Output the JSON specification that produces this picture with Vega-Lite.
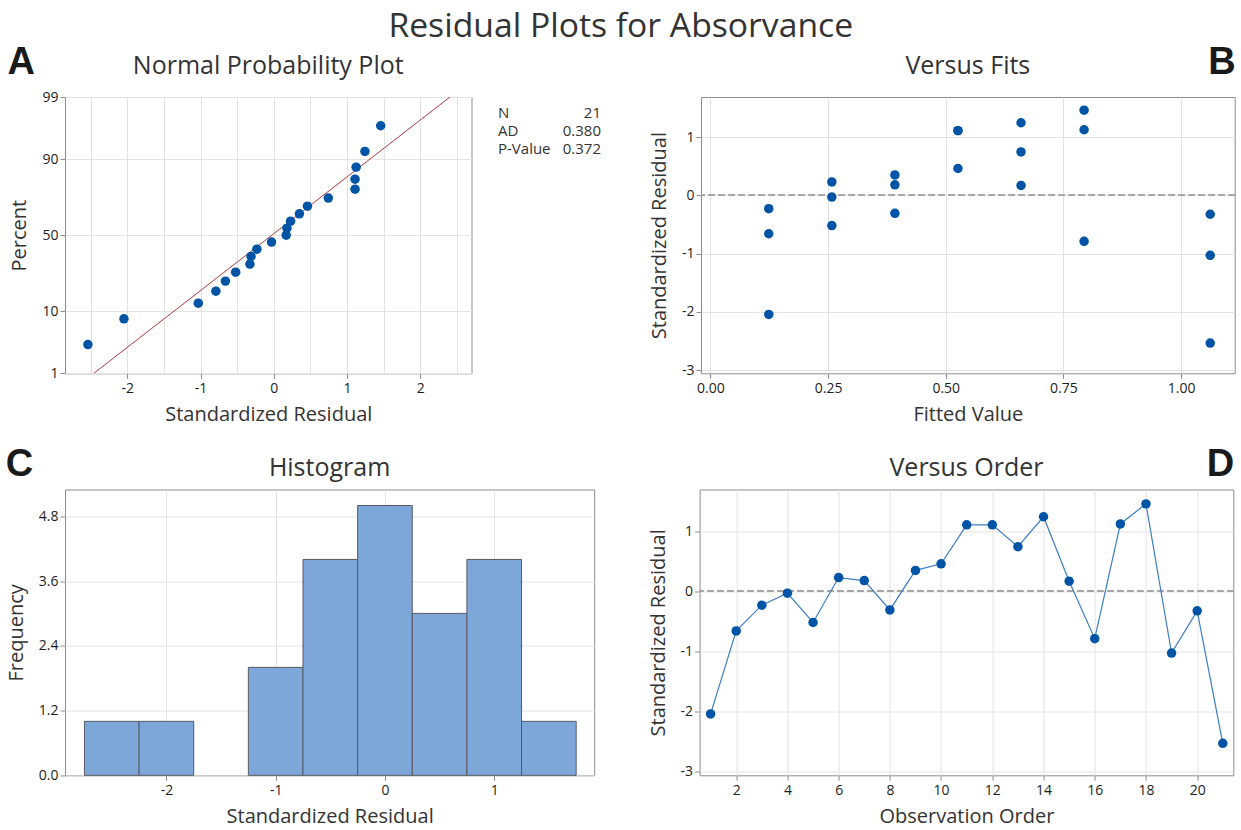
{
  "$schema": "https://vega.github.io/schema/vega-lite/v6.json",
  "background": "white",
  "padding": {"left": 5, "top": 9, "right": 8, "bottom": 4},
  "title": {"text": "Residual Plots for Absorvance", "fontSize": 33.7, "fontWeight": "normal", "font": "Open Sans", "color": "#333333", "anchor": "middle", "baseline": "alphabetic", "offset": 0, "dy": 27.1},
  "config": {
    "font": "Open Sans",
    "view": {"stroke": "#8c8c8c", "strokeWidth": 1},
    "axis": {"domain": false, "grid": true, "gridColor": "#e3e3e3", "gridWidth": 1, "ticks": true, "tickColor": "#8c8c8c", "tickSize": 5, "labelFont": "Open Sans", "labelFontSize": 14, "labelColor": "#1e1e1e", "labelPadding": 3, "titleFont": "Open Sans", "titleFontSize": 20, "titleFontWeight": "normal", "titleColor": "#333333", "titlePadding": 9.5},
    "axisY": {"labelPadding": 2, "titlePadding": 12},
    "title": {"font": "Open Sans", "fontSize": 25, "fontWeight": "normal", "color": "#333333"}
  },
  "datasets": {
    "obs": [
      {"order": 1, "fit": 0.124, "resid": -2.045},
      {"order": 2, "fit": 0.124, "resid": -0.66},
      {"order": 3, "fit": 0.124, "resid": -0.23},
      {"order": 4, "fit": 0.258, "resid": -0.03},
      {"order": 5, "fit": 0.258, "resid": -0.52},
      {"order": 6, "fit": 0.258, "resid": 0.23},
      {"order": 7, "fit": 0.392, "resid": 0.18},
      {"order": 8, "fit": 0.392, "resid": -0.31},
      {"order": 9, "fit": 0.392, "resid": 0.35},
      {"order": 10, "fit": 0.526, "resid": 0.46},
      {"order": 11, "fit": 0.526, "resid": 1.11},
      {"order": 12, "fit": 0.526, "resid": 1.11},
      {"order": 13, "fit": 0.66, "resid": 0.745},
      {"order": 14, "fit": 0.66, "resid": 1.245},
      {"order": 15, "fit": 0.66, "resid": 0.17},
      {"order": 16, "fit": 0.794, "resid": -0.79},
      {"order": 17, "fit": 0.794, "resid": 1.125},
      {"order": 18, "fit": 0.794, "resid": 1.46},
      {"order": 19, "fit": 1.062, "resid": -1.03},
      {"order": 20, "fit": 1.062, "resid": -0.325},
      {"order": 21, "fit": 1.062, "resid": -2.537}
    ],
    "npp": [
      {"resid": -2.537, "pct": 3.27, "z": -1.842},
      {"resid": -2.045, "pct": 7.94, "z": -1.409},
      {"resid": -1.03, "pct": 12.62, "z": -1.145},
      {"resid": -0.79, "pct": 17.29, "z": -0.943},
      {"resid": -0.66, "pct": 21.96, "z": -0.774},
      {"resid": -0.52, "pct": 26.64, "z": -0.624},
      {"resid": -0.325, "pct": 31.31, "z": -0.487},
      {"resid": -0.31, "pct": 35.98, "z": -0.359},
      {"resid": -0.23, "pct": 40.65, "z": -0.236},
      {"resid": -0.03, "pct": 45.33, "z": -0.117},
      {"resid": 0.17, "pct": 50.0, "z": 0.0},
      {"resid": 0.18, "pct": 54.67, "z": 0.117},
      {"resid": 0.23, "pct": 59.35, "z": 0.236},
      {"resid": 0.35, "pct": 64.02, "z": 0.359},
      {"resid": 0.46, "pct": 68.69, "z": 0.487},
      {"resid": 0.745, "pct": 73.36, "z": 0.624},
      {"resid": 1.11, "pct": 78.04, "z": 0.774},
      {"resid": 1.11, "pct": 82.71, "z": 0.943},
      {"resid": 1.125, "pct": 87.38, "z": 1.145},
      {"resid": 1.245, "pct": 92.06, "z": 1.409},
      {"resid": 1.46, "pct": 96.73, "z": 1.842}
    ],
    "nppline": [
      {"resid": -2.456, "pct": 1, "z": -2.326},
      {"resid": 2.406, "pct": 99, "z": 2.326}
    ],
    "stats": [
      {"stat": "N", "value": "21"},
      {"stat": "AD", "value": "0.380"},
      {"stat": "P-Value", "value": "0.372"}
    ],
    "hist": [
      {"bin_start": -2.75, "bin_end": -2.25, "count": 1},
      {"bin_start": -2.25, "bin_end": -1.75, "count": 1},
      {"bin_start": -1.25, "bin_end": -0.75, "count": 2},
      {"bin_start": -0.75, "bin_end": -0.25, "count": 4},
      {"bin_start": -0.25, "bin_end": 0.25, "count": 5},
      {"bin_start": 0.25, "bin_end": 0.75, "count": 3},
      {"bin_start": 0.75, "bin_end": 1.25, "count": 4},
      {"bin_start": 1.25, "bin_end": 1.75, "count": 1}
    ]
  },
  "spacing": 19.5,
  "vconcat": [
    {
      "spacing": 46,
      "hconcat": [
        {
          "spacing": 25,
          "hconcat": [
            {
              "title": {"text": "A", "anchor": "start", "frame": "bounds", "font": "Liberation Sans", "fontSize": 38, "fontWeight": "bold", "color": "#1a1a1a", "baseline": "alphabetic", "offset": 0, "dy": 58, "dx": -2},
              "vconcat": [
                {
                  "width": 406.5,
                  "height": 276.3,
                  "title": {"text": "Normal Probability Plot", "anchor": "middle", "frame": "group", "baseline": "alphabetic", "offset": 0, "dy": 9},
                  "encoding": {
                    "y": {"field": "z", "type": "quantitative", "title": "Percent",
                      "scale": {"domain": [-2.326, 2.326], "nice": false, "zero": false},
                      "axis": {"values": [-2.326, -1.2816, 0, 1.2816, 2.326], "labelExpr": "datum.value < -2 ? '1' : datum.value < -1 ? '10' : datum.value < 1 ? '50' : datum.value < 2 ? '90' : '99'"}},
                    "x": {"field": "resid", "type": "quantitative", "title": "Standardized Residual",
                      "scale": {"domain": [-2.85, 2.7], "nice": false, "zero": false},
                      "axis": {"values": [-2.5, -2, -1.5, -1, -0.5, 0, 0.5, 1, 1.5, 2, 2.5],
                        "labelExpr": "datum.value % 1 !== 0 ? '' : (datum.value < 0 ? '-' + abs(datum.value) : '' + datum.value)",
                        "tickOpacity": {"condition": {"test": "datum.value % 1 !== 0", "value": 0}, "value": 1}}}
                  },
                  "layer": [
                    {"data": {"name": "nppline"}, "mark": {"type": "line", "color": "#B23A3A", "strokeWidth": 1, "clip": true}},
                    {"data": {"name": "npp"}, "mark": {"type": "circle", "size": 90, "color": "#0054A6", "opacity": 1}}
                  ]
                }
              ]
            },
            {
              "width": 103,
              "height": 67.2,
              "data": {"name": "stats"},
              "view": {"stroke": "transparent"},
              "encoding": {"y": {"field": "stat", "type": "nominal", "sort": null, "scale": {"type": "point", "padding": 0.877}, "axis": null}},
              "layer": [
                {"mark": {"type": "text", "align": "left", "baseline": "middle", "fontSize": 15, "color": "#333333", "font": "Open Sans"},
                 "encoding": {"x": {"datum": 0, "type": "quantitative", "scale": {"domain": [0, 1], "nice": false, "zero": false}, "axis": null}, "text": {"field": "stat"}}},
                {"mark": {"type": "text", "align": "right", "baseline": "middle", "fontSize": 15, "color": "#333333", "font": "Open Sans"},
                 "encoding": {"x": {"datum": 1, "type": "quantitative"}, "text": {"field": "value"}}}
              ]
            }
          ]
        },
        {
          "title": {"text": "B", "anchor": "end", "frame": "bounds", "font": "Liberation Sans", "fontSize": 38, "fontWeight": "bold", "color": "#1a1a1a", "baseline": "alphabetic", "offset": 0, "dy": 58},
          "vconcat": [
            {
              "width": 533.7,
              "height": 276.3,
              "title": {"text": "Versus Fits", "anchor": "middle", "frame": "group", "baseline": "alphabetic", "offset": 0, "dy": 2},
              "data": {"name": "obs"},
              "layer": [
                {"mark": {"type": "rule", "color": "#a6a6a6", "strokeDash": [6, 4], "strokeWidth": 1},
                 "encoding": {"y": {"datum": 0, "type": "quantitative"}}},
                {"mark": {"type": "circle", "size": 90, "color": "#0054A6", "opacity": 1},
                 "encoding": {
                   "x": {"field": "fit", "type": "quantitative", "title": "Fitted Value",
                     "scale": {"domain": [-0.02, 1.114], "nice": false, "zero": false},
                     "axis": {"values": [0, 0.25, 0.5, 0.75, 1], "format": ".2f"}},
                   "y": {"field": "resid", "type": "quantitative", "title": "Standardized Residual",
                     "scale": {"domain": [-3.055, 1.687], "nice": false, "zero": false},
                     "axis": {"values": [-3, -2, -1, 0, 1], "labelExpr": "datum.value < 0 ? '-' + abs(datum.value) : '' + datum.value"}}
                 }}
              ]
            }
          ]
        }
      ]
    },
    {
      "spacing": 51.6,
      "hconcat": [
        {
          "title": {"text": "C", "anchor": "start", "frame": "bounds", "font": "Liberation Sans", "fontSize": 38, "fontWeight": "bold", "color": "#1a1a1a", "baseline": "alphabetic", "offset": 0, "dy": 58},
          "vconcat": [
            {
              "width": 529.2,
              "height": 285.8,
              "title": {"text": "Histogram", "anchor": "middle", "frame": "group", "baseline": "alphabetic", "offset": 0, "dy": 11.5},
              "data": {"name": "hist"},
              "mark": {"type": "rect", "color": "#7DA7D9", "stroke": "#555a63", "strokeWidth": 1},
              "encoding": {
                "x": {"field": "bin_start", "type": "quantitative", "title": "Standardized Residual",
                  "scale": {"domain": [-2.928, 1.915], "nice": false, "zero": false},
                  "axis": {"values": [-2, -1, 0, 1], "labelExpr": "datum.value < 0 ? '-' + abs(datum.value) : '' + datum.value"}},
                "x2": {"field": "bin_end"},
                "y": {"field": "count", "type": "quantitative", "title": "Frequency",
                  "scale": {"domain": [0, 5.296], "nice": false, "zero": true},
                  "axis": {"values": [0, 1.2, 2.4, 3.6, 4.8], "format": ".1f"}},
                "y2": {"datum": 0}
              }
            }
          ]
        },
        {
          "title": {"text": "D", "anchor": "end", "frame": "bounds", "font": "Liberation Sans", "fontSize": 38, "fontWeight": "bold", "color": "#1a1a1a", "baseline": "alphabetic", "offset": 0, "dy": 58},
          "vconcat": [
            {
              "width": 533.7,
              "height": 285.8,
              "title": {"text": "Versus Order", "anchor": "middle", "frame": "group", "baseline": "alphabetic", "offset": 0, "dy": 11.5},
              "data": {"name": "obs"},
              "encoding": {
                "x": {"field": "order", "type": "quantitative", "title": "Observation Order",
                  "scale": {"domain": [0.57, 21.41], "nice": false, "zero": false},
                  "axis": {"values": [2, 4, 6, 8, 10, 12, 14, 16, 18, 20]}},
                "y": {"field": "resid", "type": "quantitative", "title": "Standardized Residual",
                  "scale": {"domain": [-3.07, 1.70], "nice": false, "zero": false},
                  "axis": {"values": [-3, -2, -1, 0, 1], "labelExpr": "datum.value < 0 ? '-' + abs(datum.value) : '' + datum.value"}}
              },
              "layer": [
                {"mark": {"type": "rule", "color": "#a6a6a6", "strokeDash": [6, 4], "strokeWidth": 1},
                 "encoding": {"x": null, "y": {"datum": 0, "type": "quantitative"}}},
                {"mark": {"type": "line", "color": "#3C7DC4", "strokeWidth": 1.2}},
                {"mark": {"type": "circle", "size": 90, "color": "#0054A6", "opacity": 1}}
              ]
            }
          ]
        }
      ]
    }
  ]
}
